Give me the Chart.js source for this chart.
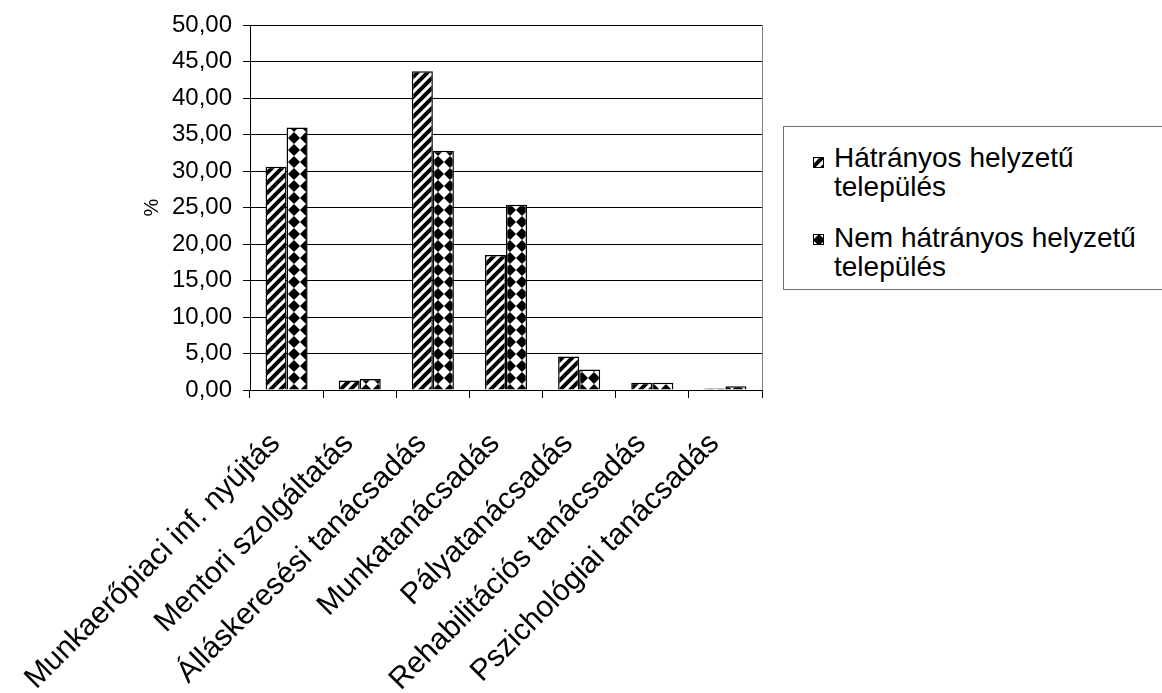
<!DOCTYPE html>
<html>
<head>
<meta charset="utf-8">
<script src="https://cdn.jsdelivr.net/npm/chart.js@4.4.1/dist/chart.umd.min.js"></script>
<style>
  html, body { margin: 0; padding: 0; background: #fff; }
  #wrap { position: relative; width: 1162px; height: 693px; overflow: hidden; }
  #chart { position: absolute; left: 0; top: 0; }
  #legend {
    position: absolute; left: 783px; top: 126px; width: 420px; height: 164px;
    border: 1px solid #6e6e6e; box-sizing: border-box; background: #fff;
    font-family: "Liberation Sans", Arial, sans-serif; font-size: 28px; color: #000;
  }
  .swatch { position: absolute; left: 29px; width: 11px; height: 11px; }
  .label { position: absolute; left: 50px; line-height: 29px; white-space: nowrap; }
</style>
</head>
<body>
<div id="wrap">
  <canvas id="chart" width="1162" height="693"></canvas>
  <div id="legend">
    <canvas class="swatch" id="sw0" width="11" height="11" style="top:30px"></canvas>
    <div class="label" style="top:16px">Hátrányos helyzetű<br>település</div>
    <canvas class="swatch" id="sw1" width="11" height="11" style="top:107px"></canvas>
    <div class="label" style="top:96px">Nem hátrányos helyzetű<br>település</div>
  </div>
</div>
<script>
// Service categories (x axis)
const categories = [
  'Munkaerőpiaci inf. nyújtás',
  'Mentori szolgáltatás',
  'Álláskeresési tanácsadás',
  'Munkatanácsadás',
  'Pályatanácsadás',
  'Rehabilitációs tanácsadás',
  'Pszichológiai tanácsadás'
];

// Series names
const seriesNames = ['Hátrányos helyzetű település', 'Nem hátrányos helyzetű település'];

// Share of respondents (%) per service
const disadvantaged = [30.6, 1.3, 43.7, 18.5, 4.6, 1.0, 0.2];
const notDisadvantaged = [36.0, 1.5, 32.8, 25.4, 2.8, 1.0, 0.5];

// Value axis range
const yMin = 0;
const yMax = 50;
const yStep = 5;
const yTitle = '%';

const FONT = '"Liberation Sans", Arial, sans-serif';
Chart.defaults.font.family = FONT;
Chart.defaults.color = '#000';

// Fill tiles: diagonal hatching and diamond checker
function hatchTile() {
  const s = 10;
  const c = document.createElement('canvas');
  c.width = s; c.height = s;
  const g = c.getContext('2d');
  g.fillStyle = '#fff'; g.fillRect(0, 0, s, s);
  g.strokeStyle = '#000'; g.lineWidth = 4;
  g.beginPath();
  for (let k = -1; k <= 1; k++) {
    g.moveTo(-2 + k * s, s + 2); g.lineTo(s + 2 + k * s, -2);
  }
  g.stroke();
  return c;
}
function diamondTile() {
  const c = document.createElement('canvas');
  c.width = 12; c.height = 12;
  const g = c.getContext('2d');
  g.fillStyle = '#fff'; g.fillRect(0, 0, 12, 12);
  g.fillStyle = '#000';
  g.beginPath();
  g.moveTo(6, 0); g.lineTo(12, 6); g.lineTo(6, 12); g.lineTo(0, 6);
  g.closePath(); g.fill();
  return c;
}

const ctx = document.getElementById('chart').getContext('2d');
const hatch = ctx.createPattern(hatchTile(), 'repeat');
const diamonds = ctx.createPattern(diamondTile(), 'repeat');

// Legend swatches
function drawSwatch(id, tile) {
  const g = document.getElementById(id).getContext('2d');
  g.fillStyle = g.createPattern(tile, 'repeat');
  g.fillRect(0, 0, 11, 11);
  g.strokeStyle = '#000'; g.lineWidth = 1;
  g.strokeRect(0.5, 0.5, 10, 10);
}
drawSwatch('sw0', hatchTile());
drawSwatch('sw1', diamondTile());

// Thin frame line on the right side of the plot area
const plotFrame = {
  id: 'plotFrame',
  afterDatasetsDraw(chart) {
    const a = chart.chartArea, g = chart.ctx;
    g.save();
    g.strokeStyle = '#808080'; g.lineWidth = 1;
    g.beginPath();
    g.moveTo(Math.round(a.right) + 0.5, a.top);
    g.lineTo(Math.round(a.right) + 0.5, a.bottom);
    g.stroke();
    g.restore();
  }
};

new Chart(ctx, {
  type: 'bar',
  data: {
    labels: categories,
    datasets: [
      { label: seriesNames[0], data: disadvantaged, backgroundColor: hatch,
        borderColor: '#000', borderWidth: 1.5 },
      { label: seriesNames[1], data: notDisadvantaged, backgroundColor: diamonds,
        borderColor: '#000', borderWidth: 1.5 }
    ]
  },
  options: {
    responsive: false,
    animation: false,
    devicePixelRatio: 1,
    layout: { padding: { left: 136, top: 20, right: 400, bottom: 0 } },
    datasets: { bar: { categoryPercentage: 0.575, barPercentage: 1.0 } },
    plugins: { legend: { display: false }, tooltip: { enabled: false } },
    scales: {
      x: {
        grid: { offset: true, drawOnChartArea: false, drawTicks: true, tickLength: 8, color: '#000' },
        border: { color: '#000', width: 1 },
        ticks: {
          autoSkip: false, minRotation: 45, maxRotation: 45,
          padding: 28, labelOffset: -11,
          font: { size: 30, family: FONT }, color: '#000'
        },
        afterFit(scale) {
          scale.height = 303;
          // labels hang into the free space on the left; keep plot edges fixed
          scale.paddingLeft = 0;
          scale.paddingRight = 0;
        }
      },
      y: {
        min: yMin, max: yMax,
        grid: { color: '#000', tickLength: 7, drawTicks: true },
        border: { color: '#000', width: 1 },
        ticks: {
          stepSize: yStep, padding: 11,
          font: { size: 24, family: FONT }, color: '#000',
          callback: v => Number(v).toFixed(2).replace('.', ',')
        },
        title: { display: true, text: yTitle, font: { size: 20, family: FONT }, color: '#000', padding: { top: 4, bottom: 0 } },
        afterFit(scale) { scale.width = 114; }
      }
    }
  },
  plugins: [plotFrame]
});
</script>
</body>
</html>
